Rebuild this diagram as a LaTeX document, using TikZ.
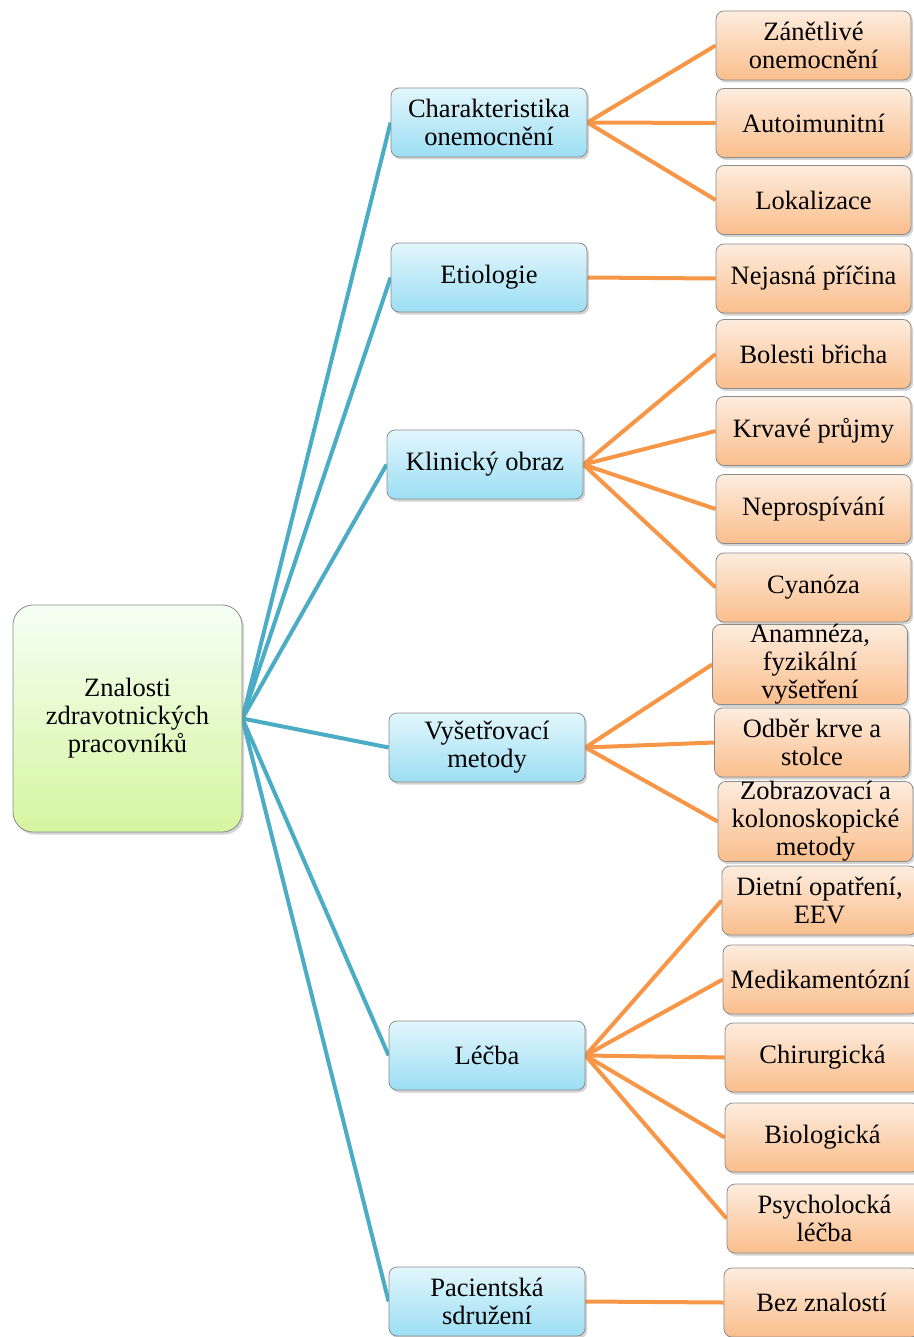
\documentclass[tikz,border=0pt]{standalone}
\usepackage{fontspec}
\setmainfont{Liberation Serif}
\usetikzlibrary{shadows,backgrounds}
\definecolor{linkblue}{HTML}{4BACC6}
\definecolor{linkorange}{HTML}{F79646}
\definecolor{boxborder}{HTML}{8C8C8C}
\tikzset{
  basebox/.style={draw=boxborder, line width=0.8pt, rounded corners=8pt, inner sep=0pt, align=center,
    font=\fontsize{26.5}{28}\selectfont,
    drop shadow={shadow xshift=2pt, shadow yshift=-2.5pt, opacity=0.35, fill=gray}},
  rootbox/.style={basebox, rounded corners=20pt, top color=green!4!white, bottom color={rgb,255:red,214;green,245;blue,160},
    minimum width=229pt, minimum height=227pt},
  bluebox/.style={basebox, top color={rgb,255:red,226;green,246;blue,252}, bottom color={rgb,255:red,156;green,222;blue,244},
    minimum width=196pt, minimum height=69pt},
  orangebox/.style={basebox, top color={rgb,255:red,253;green,236;blue,222}, bottom color={rgb,255:red,250;green,190;blue,140},
    minimum width=195pt, minimum height=69pt},
  bluelink/.style={draw=linkblue, line width=4pt},
  orangelink/.style={draw=linkorange, line width=4pt}
}
\begin{document}
\begin{tikzpicture}[x=1pt,y=-1pt]
\useasboundingbox (0,0) rectangle (913,1337);
% root
\node[rootbox] (root) at (127.5,718.5) {Znalosti\\zdravotnických\\pracovníků};
% level 1
\node[bluebox] (char) at (489,122.5) {Charakteristika\\onemocnění};
\node[bluebox] (etio) at (489,277.5) {Etiologie};
\node[bluebox] (klin) at (485,464.5) {Klinický obraz};
\node[bluebox] (vys) at (487,747.5) {Vyšetřovací\\metody};
\node[bluebox] (lecba) at (487,1055.5) {Léčba};
\node[bluebox] (pac) at (487,1301.5) {Pacientská\\sdružení};
% level 2
\node[orangebox] (zan) at (813.5,45.5) {Zánětlivé\\onemocnění};
\node[orangebox] (auto) at (813.5,123) {Autoimunitní};
\node[orangebox] (lok) at (813.5,200) {Lokalizace};
\node[orangebox] (nej) at (813.5,278.5) {Nejasná příčina};
\node[orangebox] (bol) at (813.5,354) {Bolesti břicha};
\node[orangebox] (krv) at (813.5,431) {Krvavé průjmy};
\node[orangebox] (nepr) at (813.5,509) {Neprospívání};
\node[orangebox] (cya) at (813.5,587.5) {Cyanóza};
\node[orangebox] (anam) at (810,664.5) {Anamnéza,\\fyzikální\\vyšetření};
\node[orangebox] (odb) at (812,742.5) {Odběr krve a\\stolce};
\node[orangebox] (zob) at (815.5,821.5) {Zobrazovací a\\kolonoskopické\\metody};
\node[orangebox] (diet) at (819.5,900.5) {Dietní opatření,\\EEV};
\node[orangebox] (med) at (820.5,979.5) {Medikamentózní};
\node[orangebox] (chir) at (822.5,1057.5) {Chirurgická};
\node[orangebox] (bio) at (822.5,1137.5) {Biologická};
\node[orangebox] (psy) at (824.5,1218.5) {Psycholocká\\léčba};
\node[orangebox] (bez) at (821.5,1302.5) {Bez znalostí};
\begin{scope}[on background layer]
\foreach \b in {char,etio,klin,vys,lecba,pac}
  \draw[bluelink] (root.east) -- (\b.west);
\foreach \o in {zan,auto,lok} \draw[orangelink] (char.east) -- (\o.west);
\draw[orangelink] (etio.east) -- (nej.west);
\foreach \o in {bol,krv,nepr,cya} \draw[orangelink] (klin.east) -- (\o.west);
\foreach \o in {anam,odb,zob} \draw[orangelink] (vys.east) -- (\o.west);
\foreach \o in {diet,med,chir,bio,psy} \draw[orangelink] (lecba.east) -- (\o.west);
\draw[orangelink] (pac.east) -- (bez.west);
\end{scope}
\end{tikzpicture}
\end{document}
